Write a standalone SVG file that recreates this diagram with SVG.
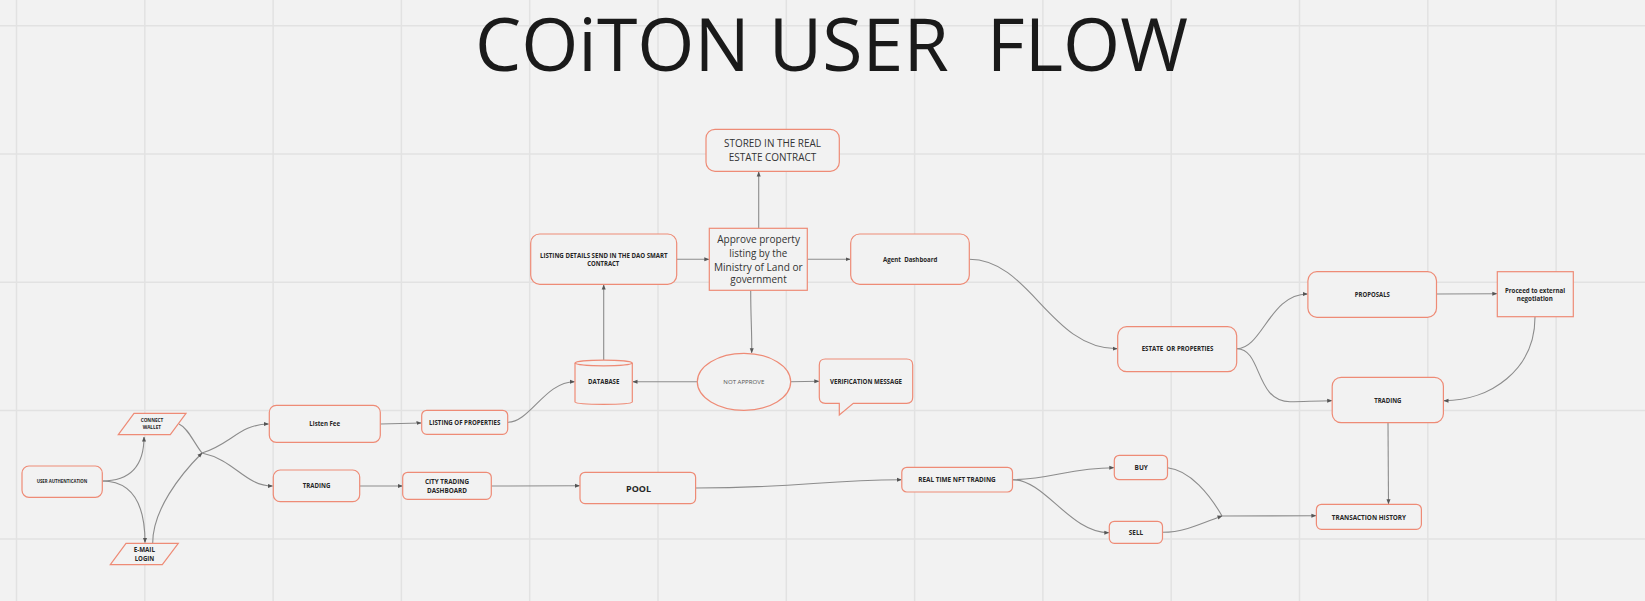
<svg xmlns="http://www.w3.org/2000/svg" width="1645" height="601" viewBox="0 0 1645 601">
<defs>
<style>
.grid line{stroke:#e2e2e2;stroke-width:1.5}
.n{fill:#f2f2f2;stroke:#ee8b76;stroke-width:1.2}
.t{font-family:"Open Sans","Liberation Sans",sans-serif;font-weight:700;fill:#262626;text-anchor:middle}
.r{font-family:"Open Sans","Liberation Sans",sans-serif;font-weight:400;fill:#333;text-anchor:middle}
.c path{fill:none;stroke:#8c8c8c;stroke-width:1.1}
.a{marker-end:url(#ah)}
</style>
<marker id="ah" viewBox="0 0 10 10" refX="9" refY="5" markerWidth="5" markerHeight="5" markerUnits="userSpaceOnUse" orient="auto">
<path d="M0,1 L10,5 L0,9 z" fill="#555"/>
</marker>
</defs>
<rect width="1645" height="601" fill="#f2f2f2"/>
<g class="grid">
<line x1="16.5" y1="0" x2="16.5" y2="601"/><line x1="144.8" y1="0" x2="144.8" y2="601"/><line x1="273.1" y1="0" x2="273.1" y2="601"/><line x1="401.4" y1="0" x2="401.4" y2="601"/><line x1="529.7" y1="0" x2="529.7" y2="601"/><line x1="658" y1="0" x2="658" y2="601"/><line x1="786.3" y1="0" x2="786.3" y2="601"/><line x1="914.6" y1="0" x2="914.6" y2="601"/><line x1="1042.9" y1="0" x2="1042.9" y2="601"/><line x1="1171.2" y1="0" x2="1171.2" y2="601"/><line x1="1299.5" y1="0" x2="1299.5" y2="601"/><line x1="1427.8" y1="0" x2="1427.8" y2="601"/><line x1="1556.1" y1="0" x2="1556.1" y2="601"/>
<line x1="0" y1="25.7" x2="1645" y2="25.7"/><line x1="0" y1="154" x2="1645" y2="154"/><line x1="0" y1="282.3" x2="1645" y2="282.3"/><line x1="0" y1="410.6" x2="1645" y2="410.6"/><line x1="0" y1="538.9" x2="1645" y2="538.9"/>
</g>
<text id="title" x="475" y="71" textLength="713" lengthAdjust="spacingAndGlyphs" xml:space="preserve" style="white-space:pre" font-family="'Open Sans','Liberation Sans',sans-serif" font-size="74" fill="#1a1a1a">COiTON USER  FLOW</text>
<g class="c">
<path class="a" d="M102,481 C130,481 144,466 144,437"/>
<path class="a" d="M102,481 C130,481 145,500 145,542.5"/>
<path d="M179,424 C188,428 194,443 202,453"/>
<path class="a" d="M152.7,543 C152.7,510 180,475 202,453"/>
<path class="a" d="M202,453 C230,445 240,424 268.5,424"/>
<path class="a" d="M202,453 C235,460 245,486 272.5,486"/>
<path class="a" d="M380.3,424 L421,423"/>
<path class="a" d="M507.7,422.3 C530,422.3 545,381.7 574.5,381.7"/>
<path class="a" d="M359.7,486 L402.3,486"/>
<path class="a" d="M491.3,486 L579.5,485.7"/>
<path class="a" d="M695.6,488 C800,488 820,480 901.3,479.7"/>
<path class="a" d="M603.7,360 L603.7,285"/>
<path class="a" d="M676.7,259.3 L708.8,259.3"/>
<path class="a" d="M758.7,228.3 L758.7,172"/>
<path class="a" d="M807.3,259.3 L850,259.3"/>
<path class="a" d="M750.7,290.3 C750.7,320 752,330 751.7,352.8"/>
<path class="a" d="M697.3,381.7 L633,381.7"/>
<path class="a" d="M790.7,381.7 L818.8,381.3"/>
<path class="a" d="M969.3,259.3 C1030,259.3 1050,348.7 1117.2,348.7"/>
<path class="a" d="M1237,348.7 C1262,348.7 1270,294 1307.4,294"/>
<path class="a" d="M1237,348.7 C1262,348.7 1255,401.7 1290,401.7 C1305,401.7 1315,400.7 1331.7,400.7"/>
<path class="a" d="M1436.5,294 L1496.8,293.7"/>
<path class="a" d="M1535,317 C1535,370 1490,400.7 1444,400.7"/>
<path class="a" d="M1388,422.7 L1388.5,503.8"/>
<path class="a" d="M1012.5,479.7 C1050,479.7 1070,467.7 1113.8,467.7"/>
<path class="a" d="M1012.5,479.7 C1045,479.7 1070,532.7 1108.8,532.7"/>
<path d="M1167.5,467.7 C1190,470 1210,495 1222,516"/>
<path class="a" d="M1162.5,532.3 C1185,532.3 1205,522 1222,516"/>
<path class="a" d="M1222,516 L1315.9,515.7"/>
</g>
<g id="user-auth"><rect class="n" x="22" y="466" width="80.3" height="31.3" rx="7"/><text class="t" x="62" y="482.8" font-size="5.2" textLength="50.6" lengthAdjust="spacingAndGlyphs">USER AUTHENTICATION</text></g>
<g id="connect-wallet"><polygon class="n" points="134,413.3 186,413.3 170.3,434.7 118.3,434.7"/><text class="t" x="152" y="421.5" font-size="5.2" textLength="22.7" lengthAdjust="spacingAndGlyphs">CONNECT</text><text class="t" x="151.8" y="428.5" font-size="5.2" textLength="18.3" lengthAdjust="spacingAndGlyphs">WALLET</text></g>
<g id="email-login"><polygon class="n" points="126,543.3 178.3,543.3 162.3,564.7 110.3,564.7"/><text class="t" x="144.3" y="551.9" font-size="7.5" textLength="21.3" lengthAdjust="spacingAndGlyphs">E-MAIL</text><text class="t" x="144.5" y="560.6" font-size="7.5" textLength="19.6" lengthAdjust="spacingAndGlyphs">LOGIN</text></g>
<g id="listen-fee"><rect class="n" x="269.3" y="405.3" width="111" height="37" rx="7"/><text class="t" x="324.7" y="426" font-size="7.5" textLength="30.7" lengthAdjust="spacingAndGlyphs">Listen Fee</text></g>
<g id="trading-left"><rect class="n" x="273.3" y="470" width="86.4" height="31.7" rx="7"/><text class="t" x="316.5" y="488" font-size="7.5" textLength="27.6" lengthAdjust="spacingAndGlyphs">TRADING</text></g>
<g id="listing-properties"><rect class="n" x="421.7" y="410.3" width="86" height="24" rx="5"/><text class="t" x="464.7" y="424.9" font-size="7.2" textLength="71.3" lengthAdjust="spacingAndGlyphs">LISTING OF PROPERTIES</text></g>
<g id="city-trading"><rect class="n" x="402.7" y="472.3" width="88.6" height="27" rx="5"/><text class="t" x="447" y="484.3" font-size="7.2" textLength="44" lengthAdjust="spacingAndGlyphs">CITY TRADING</text><text class="t" x="447" y="492.9" font-size="7.2" textLength="40" lengthAdjust="spacingAndGlyphs">DASHBOARD</text></g>
<g id="pool"><rect class="n" x="580" y="472.3" width="115.6" height="31.3" rx="5"/><text class="t" x="638.5" y="492.3" font-size="9.5" textLength="25" lengthAdjust="spacingAndGlyphs">POOL</text></g>
<g id="database"><path class="n" d="M575,363 A28.7,3 0 0 1 632.3,363 L632.3,402 A28.7,2.5 0 0 1 575,402 Z"/><path class="n" d="M575,363 A28.7,3 0 0 0 632.3,363" fill="none"/><text class="t" x="603.7" y="384.2" font-size="7.2" textLength="31.3" lengthAdjust="spacingAndGlyphs">DATABASE</text></g>
<g id="listing-details"><rect class="n" x="530.7" y="234" width="146" height="50.3" rx="9"/><text class="t" x="603.8" y="257.8" font-size="6.2" textLength="127.7" lengthAdjust="spacingAndGlyphs">LISTING DETAILS SEND IN THE DAO SMART</text><text class="t" x="603.3" y="265.8" font-size="6.2" textLength="32" lengthAdjust="spacingAndGlyphs">CONTRACT</text></g>
<g id="stored"><rect class="n" x="706" y="129.3" width="133.3" height="42" rx="9"/><text class="r" x="772.5" y="147.2" font-size="11" textLength="97" lengthAdjust="spacingAndGlyphs">STORED IN THE REAL</text><text class="r" x="772.5" y="160.9" font-size="11" textLength="87.7" lengthAdjust="spacingAndGlyphs">ESTATE CONTRACT</text></g>
<g id="approve"><rect class="n" x="709.3" y="228.3" width="98" height="62" rx="0" stroke-width="1.4"/><text class="r" x="758.6" y="243" font-size="11.5" textLength="82.7" lengthAdjust="spacingAndGlyphs">Approve property</text><text class="r" x="758.3" y="256.7" font-size="11.5" textLength="58" lengthAdjust="spacingAndGlyphs">listing by the</text><text class="r" x="758.3" y="270.7" font-size="11.5" textLength="88.7" lengthAdjust="spacingAndGlyphs">Ministry of Land or</text><text class="r" x="758.5" y="283.3" font-size="11.5" textLength="56.4" lengthAdjust="spacingAndGlyphs">government</text></g>
<g id="agent-dashboard"><rect class="n" x="850.7" y="234" width="118.6" height="50.3" rx="9"/><text class="t" x="910.2" y="261.8" font-size="7.2" textLength="54.3" lengthAdjust="spacingAndGlyphs" xml:space="preserve" style="white-space:pre">Agent  Dashboard</text></g>
<g id="not-approve"><ellipse class="n" cx="744" cy="381.8" rx="46.7" ry="28.5"/><text class="r" x="743.8" y="383.7" font-size="5.8" fill="#555" style="fill:#555" textLength="41" lengthAdjust="spacingAndGlyphs">NOT APPROVE</text></g>
<g id="verification"><path class="n" d="M825.3,359 L906.7,359 Q912.7,359 912.7,365 L912.7,397.3 Q912.7,403.3 906.7,403.3 L853.3,403.3 L839.3,415 L839.3,403.3 L825.3,403.3 Q819.3,403.3 819.3,397.3 L819.3,365 Q819.3,359 825.3,359 Z"/><text class="t" x="866" y="384.2" font-size="7.2" textLength="72" lengthAdjust="spacingAndGlyphs">VERIFICATION MESSAGE</text></g>
<g id="estate"><rect class="n" x="1117.7" y="326.7" width="119" height="45" rx="9"/><text class="t" x="1177.5" y="350.8" font-size="7.2" textLength="71.7" lengthAdjust="spacingAndGlyphs" xml:space="preserve" style="white-space:pre">ESTATE  OR PROPERTIES</text></g>
<g id="proposals"><rect class="n" x="1307.9" y="271.7" width="128.6" height="45.6" rx="9"/><text class="t" x="1372.3" y="296.8" font-size="7.2" textLength="35" lengthAdjust="spacingAndGlyphs">PROPOSALS</text></g>
<g id="external"><rect class="n" x="1497.3" y="271.7" width="76" height="45" rx="0" stroke-width="1.5"/><text class="t" x="1535" y="293.2" font-size="7" textLength="60" lengthAdjust="spacingAndGlyphs">Proceed to external</text><text class="t" x="1534.8" y="301.2" font-size="7" textLength="36" lengthAdjust="spacingAndGlyphs">negotiation</text></g>
<g id="trading-right"><rect class="n" x="1332.2" y="377.3" width="111.2" height="45.4" rx="9"/><text class="t" x="1387.8" y="403.2" font-size="7.2" textLength="27.2" lengthAdjust="spacingAndGlyphs">TRADING</text></g>
<g id="real-time-nft"><rect class="n" x="901.8" y="467.3" width="110.7" height="24.7" rx="5"/><text class="t" x="957" y="482.2" font-size="7.2" textLength="77.5" lengthAdjust="spacingAndGlyphs">REAL TIME NFT TRADING</text></g>
<g id="buy"><rect class="n" x="1114.3" y="455.3" width="53.2" height="24.4" rx="5"/><text class="t" x="1141.2" y="470.2" font-size="7.2" textLength="13.3" lengthAdjust="spacingAndGlyphs">BUY</text></g>
<g id="sell"><rect class="n" x="1109.3" y="521.3" width="53.2" height="22" rx="5"/><text class="t" x="1136" y="535.2" font-size="7.2" textLength="14.3" lengthAdjust="spacingAndGlyphs">SELL</text></g>
<g id="transaction-history"><rect class="n" x="1316.4" y="504.3" width="105" height="25" rx="5"/><text class="t" x="1368.9" y="519.8" font-size="7.2" textLength="74.2" lengthAdjust="spacingAndGlyphs">TRANSACTION HISTORY</text></g>
</svg>
